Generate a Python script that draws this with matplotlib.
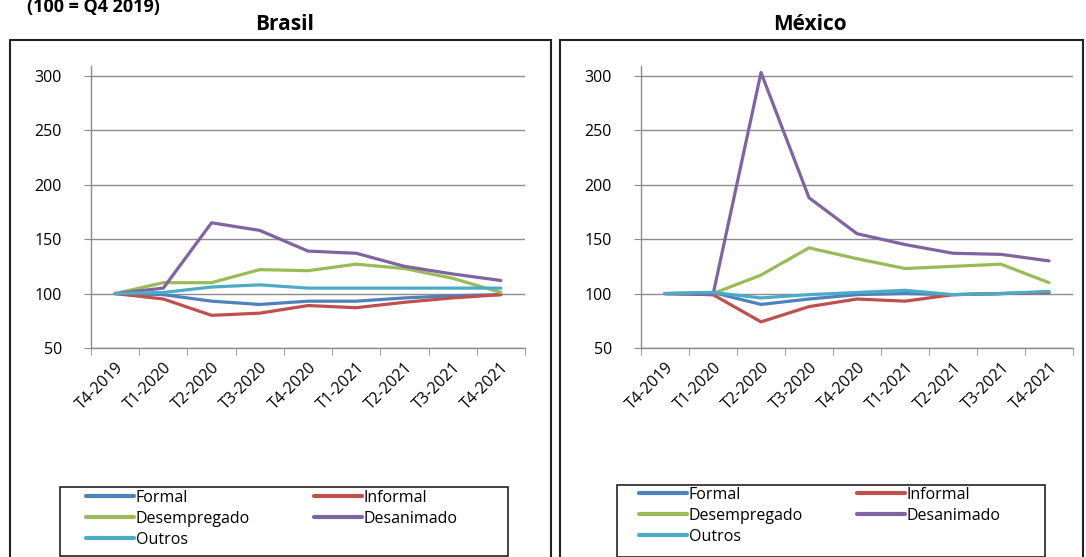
import matplotlib.pyplot as plt
import numpy as np
from matplotlib.patches import Rectangle

plt.rcParams['font.family'] = ['Open Sans', 'DejaVu Sans']

quarters = ['T4-2019', 'T1-2020', 'T2-2020', 'T3-2020', 'T4-2020',
            'T1-2021', 'T2-2021', 'T3-2021', 'T4-2021']
series_names = ['Formal', 'Informal', 'Desempregado', 'Desanimado', 'Outros']
colors = ['#4F81BD', '#C0504D', '#9BBB59', '#8064A2', '#4BACC6']

brasil_formal = [100, 99, 93, 90, 93, 93, 96, 98, 99]
brasil_informal = [100, 95, 80, 82, 89, 87, 92, 96, 99]
brasil_desempregado = [100, 110, 110, 122, 121, 127, 123, 114, 101]
brasil_desanimado = [100, 105, 165, 158, 139, 137, 125, 118, 112]
brasil_outros = [100, 101, 106, 108, 105, 105, 105, 105, 105]

mexico_formal = [100, 101, 90, 95, 99, 100, 99, 100, 101]
mexico_informal = [100, 99, 74, 88, 95, 93, 99, 100, 101]
mexico_desempregado = [100, 100, 117, 142, 132, 123, 125, 127, 110]
mexico_desanimado = [100, 99, 303, 188, 155, 145, 137, 136, 130]
mexico_outros = [100, 101, 96, 99, 101, 103, 99, 100, 102]

panels = [
    ('Brasil', [brasil_formal, brasil_informal, brasil_desempregado,
                brasil_desanimado, brasil_outros]),
    ('México', [mexico_formal, mexico_informal, mexico_desempregado,
                mexico_desanimado, mexico_outros]),
]

W, H = 1086, 557
fig = plt.figure(figsize=(W / 100, H / 100), dpi=100)

# pixel layouts
ax_px = [(91, 525, 66, 348), (641, 1073, 66, 348)]      # left, right, top, bottom
box_px = [(10, 551, 40), (560, 1083, 40)]               # left, right, top
leg_box = [(60, 508, 487, 556), (617, 1045, 485, 557)]  # legend frame
leg_anchor = [(86, 490), (639, 487)]                    # legend content top-left
col_space = [4.0, 3.4]
title_x = [285, 810]

grid_color = '#8C8C8C'
fs = 11.5
x = np.arange(len(quarters))

for i, (title, data) in enumerate(panels):
    l, r, t, b = ax_px[i]
    ax = fig.add_axes([l / W, 1 - b / H, (r - l) / W, (b - t) / H])
    lines = []
    for vals, name, c in zip(data, series_names, colors):
        ln, = ax.plot(x, vals, color=c, lw=2.3, label=name, solid_capstyle='round')
        lines.append(ln)
    ax.set_xlim(-0.5, len(quarters) - 0.5)
    ax.set_ylim(50, 309)
    ax.set_yticks([50, 100, 150, 200, 250, 300])
    ax.yaxis.grid(True, color=grid_color, lw=1)
    ax.set_axisbelow(True)
    for s in ['top', 'right']:
        ax.spines[s].set_visible(False)
    for s in ['left', 'bottom']:
        ax.spines[s].set_color(grid_color)
        ax.spines[s].set_linewidth(1)
    ax.set_xticks(x)
    ax.set_xticklabels(quarters, rotation=45, ha='right', rotation_mode='anchor')
    ax.set_xticks(np.arange(-0.5, len(quarters)), minor=True)
    ax.tick_params(axis='x', which='major', length=0, labelsize=fs, pad=8)
    ax.tick_params(axis='x', which='minor', length=5, color=grid_color)
    ax.tick_params(axis='y', length=5, color=grid_color, labelsize=fs, pad=16)

    bl, br, bt = box_px[i]
    fig.patches.append(Rectangle((bl / W, -0.05), (br - bl) / W, 1.05 - bt / H,
                                 transform=fig.transFigure, fill=False,
                                 edgecolor='#222222', lw=1.5))
    fig.text(title_x[i] / W, 1 - 25 / H, title, ha='center', va='center',
             fontsize=15, fontweight='bold')

    ll, lr, lt, lb = leg_box[i]
    fig.patches.append(Rectangle((ll / W, 1 - lb / H), (lr - ll) / W, (lb - lt) / H,
                                 transform=fig.transFigure, fill=False,
                                 edgecolor='#222222', lw=1.2))
    order = [0, 2, 4, 1, 3]
    ax_x, ax_y = leg_anchor[i]
    leg = fig.legend([lines[k] for k in order], [series_names[k] for k in order],
                     ncol=2, loc='upper left', bbox_to_anchor=(ax_x / W, 1 - ax_y / H),
                     bbox_transform=fig.transFigure, fontsize=fs, frameon=False,
                     handlelength=3.0, handletextpad=0.1, labelspacing=0.3,
                     columnspacing=col_space[i], borderpad=0, borderaxespad=0)
    for h in leg.get_lines():
        h.set_linewidth(3)

fig.text(160 / W, 1 - 12 / H, '(100 = Q4 2019)', ha='right', va='baseline',
         fontsize=13, fontweight='bold')

fig.savefig('out.png', dpi=100)
